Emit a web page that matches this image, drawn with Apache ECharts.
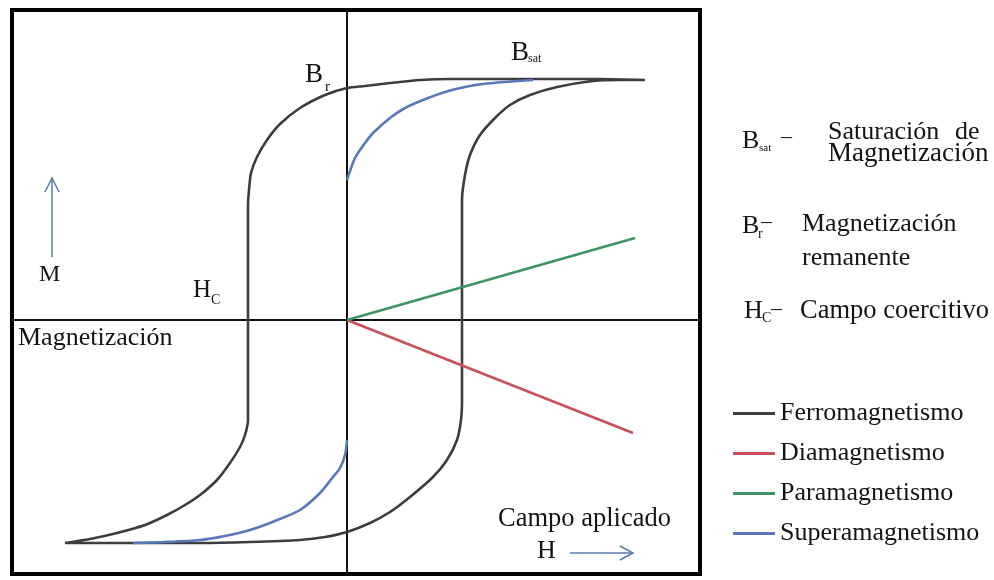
<!DOCTYPE html>
<html>
<head>
<meta charset="utf-8">
<title>Ciclo de histéresis</title>
<script src="https://cdn.jsdelivr.net/npm/echarts@6/dist/echarts.min.js"></script>
<style>
  html, body { margin: 0; padding: 0; background: #fff; }
  #main { width: 994px; height: 580px; }
</style>
</head>
<body>
<div id="main"></div>
<script>
// campo aplicado H y magnetizacion M (unidades arbitrarias)
var ferroH = [2.98, 2.53, 2.03, 1.53, 1.03, 0.73, 0.43, 0.18, 0, -0.22, -0.47, -0.67, -0.80, -0.90, -0.96, -0.98, -0.99, -0.99, -0.99,
  -1.02, -1.07, -1.17, -1.30, -1.47, -1.62, -1.80, -2.02, -2.30, -2.57, -2.82,
  -2.47, -1.97, -1.47, -0.97, -0.47, -0.22, 0, 0.23, 0.43, 0.63, 0.86, 1.00, 1.10, 1.14, 1.15, 1.15,
  1.18, 1.23, 1.33, 1.48, 1.63, 1.83, 2.10, 2.46, 2.73, 2.98];
var ferroM = [2.40, 2.41, 2.41, 2.41, 2.41, 2.40, 2.37, 2.34, 2.32, 2.25, 2.12, 1.96, 1.80, 1.63, 1.47, 1.30, 1.15, 0, -1.00,
  -1.15, -1.27, -1.43, -1.60, -1.75, -1.85, -1.95, -2.05, -2.13, -2.19, -2.23,
  -2.23, -2.23, -2.23, -2.22, -2.20, -2.17, -2.12, -2.03, -1.92, -1.77, -1.57, -1.40, -1.20, -1.00, -0.80, 1.20,
  1.45, 1.65, 1.85, 2.02, 2.15, 2.25, 2.33, 2.39, 2.40, 2.40];

var superUpH = [0, 0.08, 0.18, 0.26, 0.43, 0.58, 0.76, 0.98, 1.18, 1.36, 1.58, 1.86];
var superUpM = [1.40, 1.62, 1.77, 1.87, 2.02, 2.12, 2.20, 2.28, 2.33, 2.36, 2.38, 2.40];
var superDownH = [0, -0.02, -0.07, -0.14, -0.27, -0.47, -0.72, -0.97, -1.22, -1.47, -1.82, -2.14];
var superDownM = [-1.20, -1.35, -1.48, -1.57, -1.73, -1.90, -2.01, -2.10, -2.16, -2.20, -2.22, -2.23];

var paraH = [0, 2.88];
var paraM = [0, 0.82];
var diaH = [0, 2.86];
var diaM = [0, -1.13];

var names = ['Ferromagnetismo', 'Diamagnetismo', 'Paramagnetismo', 'Superamagnetismo'];
var colors = ['#3d3d3d', '#c8505c', '#3f9466', '#5878b8'];

function pares(h, m) {
  var out = [];
  for (var i = 0; i < h.length; i++) out.push([h[i], m[i]]);
  return out;
}

var serif = "'Liberation Serif', 'Times New Roman', serif";

function texto(x, y, t, size) {
  return {
    type: 'text', left: x, top: y - size / 2, z: 10,
    style: { text: t, fontFamily: serif, fontSize: size, fill: '#141414' }
  };
}

var myChart = echarts.init(document.getElementById('main'));

function linea(i, data) {
  return {
    name: names[i], type: 'line', data: data, showSymbol: false, smooth: 0.25,
    lineStyle: { color: colors[i], width: 2.6 }, itemStyle: { color: colors[i] },
    silent: true, animation: false
  };
}

var option = {
  animation: false,
  grid: { left: 12, top: 10, width: 688, height: 564, show: true, borderColor: '#000', borderWidth: 4 },
  xAxis: {
    type: 'value', min: -3.35, max: 3.53,
    axisLine: { onZero: true, lineStyle: { color: '#111', width: 2 } },
    axisTick: { show: false }, axisLabel: { show: false }, splitLine: { show: false }
  },
  yAxis: {
    type: 'value', min: -2.54, max: 3.10,
    axisLine: { onZero: true, lineStyle: { color: '#111', width: 2 } },
    axisTick: { show: false }, axisLabel: { show: false }, splitLine: { show: false }
  },
  legend: {
    data: names, orient: 'vertical', left: 733, top: 400, padding: 0,
    icon: 'rect', itemWidth: 42, itemHeight: 3, itemGap: 13,
    textStyle: { fontFamily: serif, fontSize: 26, lineHeight: 27, color: '#141414' },
    selectedMode: false
  },
  series: [
    linea(0, pares(ferroH, ferroM)),
    linea(1, pares(diaH, diaM)),
    linea(2, pares(paraH, paraM)),
    linea(3, pares(superUpH, superUpM)),
    linea(3, pares(superDownH, superDownM))
  ],
  graphic: [
    // etiquetas dentro del grafico
    texto(305, 75, 'B', 27), texto(325, 87, 'r', 15),
    texto(511, 53, 'B', 27), texto(528, 59, 'sat', 12),
    texto(39, 275, 'M', 24),
    texto(193, 290, 'H', 25), texto(211, 300, 'C', 14),
    texto(18, 338, 'Magnetización', 26),
    texto(498, 519, 'Campo aplicado', 26.5),
    texto(537, 551, 'H', 26),
    { type: 'line', z: 10, shape: { x1: 52, y1: 257, x2: 52, y2: 178 }, style: { stroke: '#5a7aa8', lineWidth: 1.5 } },
    { type: 'polyline', z: 10, shape: { points: [[45, 192], [52, 178], [59, 192]] }, style: { stroke: '#5a7aa8', lineWidth: 1.5, fill: null } },
    { type: 'line', z: 10, shape: { x1: 570, y1: 553, x2: 633, y2: 553 }, style: { stroke: '#5a7aa8', lineWidth: 1.5 } },
    { type: 'polyline', z: 10, shape: { points: [[620, 546], [633, 553], [620, 560]] }, style: { stroke: '#5a7aa8', lineWidth: 1.5, fill: null } },
    // notas a la derecha
    texto(742, 141, 'B', 26), texto(759, 148, 'sat', 11), texto(781, 137, '–', 22),
    texto(828, 132, 'Saturación', 26), texto(955, 132, 'de', 26),
    texto(828, 154, 'Magnetización', 27),
    texto(742, 226, 'B', 26), texto(758, 234, 'r', 14), texto(761, 222, '–', 22),
    texto(802, 224, 'Magnetización', 26),
    texto(802, 258, 'remanente', 26),
    texto(744, 311, 'H', 26), texto(762, 318, 'C', 14), texto(771, 309, '–', 22),
    texto(800, 311, 'Campo coercitivo', 26.5)
  ]
};

myChart.setOption(option);
</script>
</body>
</html>
